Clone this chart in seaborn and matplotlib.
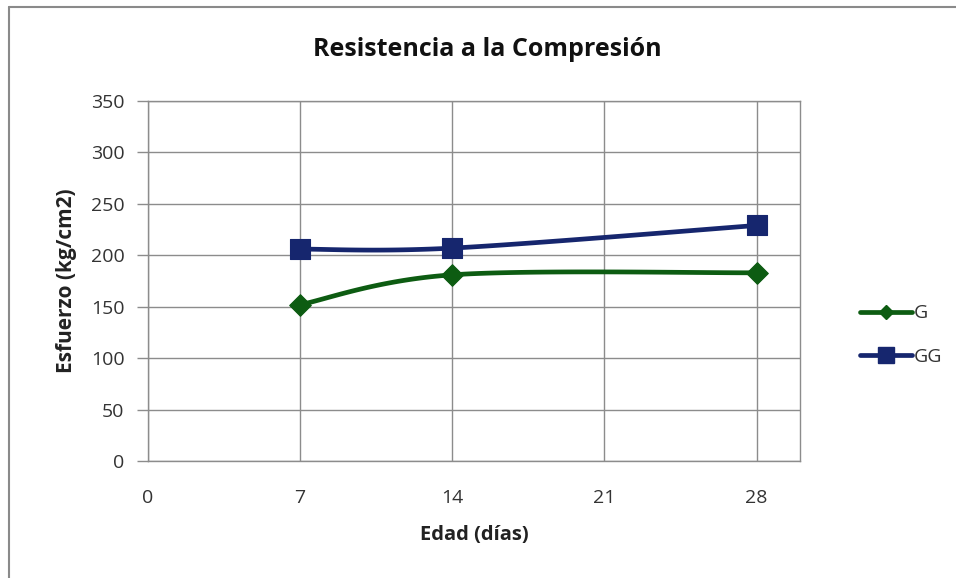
import numpy as np
import pandas as pd
import matplotlib
matplotlib.use("Agg")
import matplotlib.pyplot as plt
from matplotlib.lines import Line2D
import seaborn as sns

# Compressive strength by age
edad = [7, 14, 28]
g_vals = [152, 181, 183]
gg_vals = [206, 207, 229]
series_names = ["G", "GG"]
x_ticks = [0, 7, 14, 21, 28]
y_ticks = [0, 50, 100, 150, 200, 250, 300, 350]

colors = {"G": "#0d5c12", "GG": "#16266e"}
markers = {"G": "D", "GG": "s"}
msizes = {"G": 11, "GG": 15}

sns.set_theme(style="white")
plt.rcParams["font.family"] = ["Open Sans", "DejaVu Sans"]

df = pd.DataFrame({
    "Edad": edad * 2,
    "Esfuerzo": g_vals + gg_vals,
    "Serie": [series_names[0]] * len(edad) + [series_names[1]] * len(edad),
})


def smooth_curve(x, y, n=40, tension=1 / 6):
    """Cubic Bezier smoothing through the points (spreadsheet-style smoothed line)."""
    x = np.asarray(x, float)
    y = np.asarray(y, float)
    px = np.concatenate([[x[0]], x, [x[-1]]])
    py = np.concatenate([[y[0]], y, [y[-1]]])
    xs, ys = [], []
    for i in range(len(x) - 1):
        p0 = np.array([px[i], py[i]])
        p1 = np.array([px[i + 1], py[i + 1]])
        p2 = np.array([px[i + 2], py[i + 2]])
        p3 = np.array([px[i + 3], py[i + 3]])
        c1 = p1 + (p2 - p0) * tension
        c2 = p2 - (p3 - p1) * tension
        t = np.linspace(0, 1, n)[:, None]
        pts = ((1 - t) ** 3) * p1 + 3 * ((1 - t) ** 2) * t * c1 + 3 * (1 - t) * t ** 2 * c2 + t ** 3 * p2
        xs.append(pts[:, 0])
        ys.append(pts[:, 1])
    return np.concatenate(xs), np.concatenate(ys)


fig = plt.figure(figsize=(9.56, 5.78), dpi=100)
ax = fig.add_axes([148 / 956, 1 - 461 / 578, (800 - 148) / 956, (461 - 101) / 578])

for name in series_names:
    sub = df[df["Serie"] == name]
    sx, sy = smooth_curve(sub["Edad"], sub["Esfuerzo"])
    ax.plot(sx, sy, color=colors[name], lw=3.4, solid_capstyle="round", zorder=3)
    sns.scatterplot(data=sub, x="Edad", y="Esfuerzo", ax=ax, color=colors[name],
                    marker=markers[name], s=msizes[name] ** 2, edgecolor=colors[name],
                    linewidth=0.8, zorder=4, legend=False)

ax.set_xlim(0, 30)
ax.set_ylim(0, 350)
ax.set_xticks(x_ticks)
ax.set_yticks(y_ticks)
ax.grid(True, color="#8c8c8c", lw=1.0)
ax.set_axisbelow(True)
for s in ax.spines.values():
    s.set_color("#8c8c8c")
    s.set_linewidth(1.0)
ax.tick_params(axis="y", which="both", left=True, length=8, width=1.0, color="#8c8c8c",
               labelsize=14, labelcolor="#333333", pad=9)
ax.tick_params(axis="x", which="both", bottom=False, labelsize=14, labelcolor="#333333", pad=14)

ax.set_xlabel("Edad (días)", fontsize=14.5, fontweight="bold", color="#222222", labelpad=13)
ax.set_ylabel("Esfuerzo (kg/cm2)", fontsize=15, fontweight="bold", color="#222222", labelpad=10)
fig.text(487 / 956, 1 - 50 / 578, "Resistencia a la Compresión", ha="center", va="center",
         fontsize=18, fontweight="bold", color="#111111")

handles = [Line2D([0], [0], color=colors[n], lw=3.4, marker=markers[n],
                  markersize={"G": 7, "GG": 11}[n], markeredgecolor=colors[n]) for n in series_names]
fig.legend(handles, series_names, loc="center left", bbox_to_anchor=(842 / 956, 1 - 335 / 578),
           frameon=False, fontsize=14, handlelength=2.7, handletextpad=0.1, labelspacing=1.3,
           labelcolor="#333333")

# Outer chart border (left and top edges fall inside the canvas)
fig.add_artist(Line2D([9 / 956, 9 / 956], [0, 1 - 7 / 578], transform=fig.transFigure,
                      color="#8a8a8a", lw=1.5))
fig.add_artist(Line2D([9 / 956, 1], [1 - 7 / 578, 1 - 7 / 578], transform=fig.transFigure,
                      color="#8a8a8a", lw=1.5))

fig.savefig("out.png", dpi=100)
